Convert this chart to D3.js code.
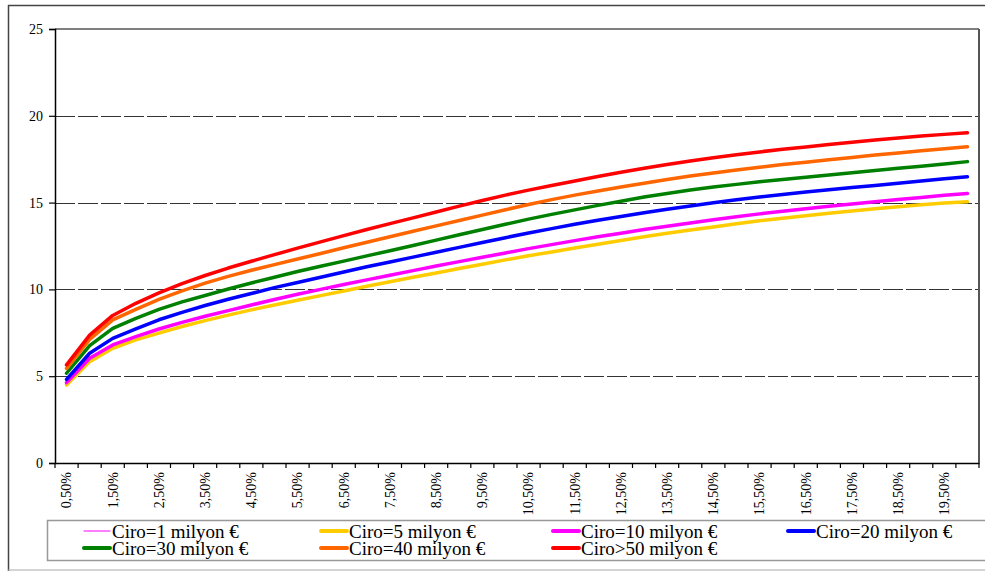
<!DOCTYPE html>
<html><head><meta charset="utf-8">
<script src="https://cdn.jsdelivr.net/npm/d3@7/dist/d3.min.js"></script>
<style>body{margin:0;background:#fff}svg{display:block}
#c text.lbl{font-family:"Liberation Serif","Times New Roman",serif !important;font-size:14px !important;}
#c text.lgt{font-family:"Liberation Serif","Times New Roman",serif !important;font-size:19px !important;}</style>
</head><body>
<svg id="c" width="985" height="571"></svg>
<script>
const categories = ["0,50%","1,00%","1,50%","2,00%","2,50%","3,00%","3,50%","4,00%","4,50%","5,00%","5,50%","6,00%","6,50%","7,00%","7,50%","8,00%","8,50%","9,00%","9,50%","10,00%","10,50%","11,00%","11,50%","12,00%","12,50%","13,00%","13,50%","14,00%","14,50%","15,00%","15,50%","16,00%","16,50%","17,00%","17,50%","18,00%","18,50%","19,00%","19,50%","20,00%"];
const yTicks = [0,5,10,15,20,25];
const ciro50 = [5.65,7.37,8.50,9.20,9.80,10.33,10.80,11.23,11.62,12.00,12.38,12.74,13.10,13.45,13.79,14.12,14.46,14.80,15.12,15.43,15.72,15.98,16.24,16.50,16.75,16.98,17.20,17.40,17.58,17.75,17.92,18.07,18.20,18.35,18.48,18.60,18.72,18.83,18.93,19.03];
const ciro40 = [5.45,7.12,8.24,8.85,9.42,9.92,10.36,10.75,11.10,11.43,11.75,12.07,12.40,12.72,13.03,13.35,13.66,13.97,14.28,14.59,14.89,15.17,15.43,15.67,15.90,16.12,16.33,16.53,16.71,16.88,17.04,17.19,17.33,17.47,17.60,17.74,17.86,17.98,18.10,18.22];
const ciro30 = [5.17,6.76,7.76,8.33,8.85,9.28,9.65,10.02,10.37,10.70,11.03,11.33,11.63,11.93,12.23,12.53,12.84,13.15,13.45,13.75,14.05,14.32,14.58,14.84,15.08,15.32,15.53,15.72,15.90,16.05,16.20,16.33,16.46,16.59,16.72,16.85,16.98,17.10,17.23,17.36];
const ciro20 = [4.82,6.32,7.18,7.72,8.25,8.68,9.07,9.43,9.76,10.10,10.40,10.70,11.00,11.30,11.58,11.86,12.14,12.42,12.70,12.98,13.25,13.50,13.75,13.98,14.20,14.42,14.62,14.81,14.99,15.16,15.32,15.47,15.61,15.74,15.87,15.99,16.12,16.24,16.37,16.49];
const ciro10 = [4.63,6.03,6.80,7.28,7.72,8.10,8.45,8.78,9.10,9.42,9.72,10.00,10.28,10.55,10.82,11.08,11.35,11.60,11.85,12.10,12.35,12.58,12.81,13.03,13.24,13.45,13.64,13.83,14.01,14.18,14.35,14.50,14.65,14.79,14.92,15.05,15.18,15.30,15.42,15.53];
const ciro5 = [4.49,5.84,6.61,7.09,7.48,7.86,8.20,8.52,8.82,9.10,9.37,9.64,9.91,10.18,10.44,10.70,10.95,11.20,11.45,11.70,11.94,12.16,12.38,12.60,12.82,13.03,13.23,13.42,13.60,13.78,13.95,14.10,14.24,14.38,14.51,14.64,14.76,14.88,14.97,15.05];
const ciro1 = ciro10.slice();
const seriesNames = ["Ciro=1 milyon €","Ciro=5 milyon €","Ciro=10 milyon €","Ciro=20 milyon €","Ciro=30 milyon €","Ciro=40 milyon €","Ciro>50 milyon €"];
const seriesColors = ["#FF00FF","#FFCC00","#FF00FF","#0000FF","#008000","#FF6600","#FF0000"];
const seriesWidths = [1,3.5,3.5,3.5,3.5,3.5,3.5];
const seriesValues = [ciro1,ciro5,ciro10,ciro20,ciro30,ciro40,ciro50];

const svg = d3.select("#c");
const L=55,R=979,T=29,B=463;
const x = d3.scaleBand().domain(categories).range([L,R]).padding(0);
const y = d3.scaleLinear().domain([0,25]).range([B,T]);
const SERIF = '"Liberation Serif","Times New Roman",serif';

// outer frame
svg.append("line").attr("x1",8).attr("x2",985).attr("y1",5.5).attr("y2",5.5).attr("stroke","#444").attr("stroke-width",1.5);
svg.append("line").attr("x1",8.5).attr("x2",8.5).attr("y1",5).attr("y2",571).attr("stroke","#444").attr("stroke-width",1.5);
svg.append("line").attr("x1",8).attr("x2",985).attr("y1",570).attr("y2",570).attr("stroke","#aaa").attr("stroke-width",1);

// gridlines
svg.append("g").selectAll("line").data(yTicks.filter(d=>d>0&&d<25)).join("line")
  .attr("x1",L).attr("x2",R).attr("y1",d=>Math.round(y(d))+0.5).attr("y2",d=>Math.round(y(d))+0.5)
  .attr("stroke","#333").attr("stroke-width",1.2).attr("stroke-dasharray","20,3");
// top and right border
svg.append("line").attr("x1",L).attr("x2",R).attr("y1",T).attr("y2",T).attr("stroke","#555").attr("stroke-width",1.5);
svg.append("line").attr("x1",R).attr("x2",R).attr("y1",T).attr("y2",B).attr("stroke","#555").attr("stroke-width",2);

// y axis
const yAxis = d3.axisLeft(y).tickValues(yTicks).tickSize(6).tickFormat(()=>"");
const gy = svg.append("g").attr("transform",`translate(${L},0)`).call(yAxis);
gy.selectAll(".tick text").remove();
gy.select(".domain").attr("stroke","#000").attr("stroke-width",1.5);
gy.selectAll(".tick line").attr("stroke","#000").attr("stroke-width",1.2);
svg.append("g").attr("font-family",SERIF).attr("font-size",14)
  .selectAll("g").data(yTicks).join("g").attr("transform",d=>`translate(${L-12},${y(d)})`)
  .append("text").attr("class","lbl").attr("dy","0.35em").attr("text-anchor","end")
  .attr("font-family",SERIF).attr("font-size",14)
  .style("font-family",SERIF).style("font-size","14px").attr("fill","#000").text(d=>String(d));

// x axis
const xAxis = d3.axisBottom(x).tickSize(0).tickFormat(()=>"");
const gx = svg.append("g").attr("transform",`translate(0,${B})`).call(xAxis);
gx.selectAll(".tick text").remove();
gx.select(".domain").attr("stroke","#000").attr("stroke-width",1.5);
const bounds = categories.map(c=>x(c)).concat([x(categories[categories.length-1])+x.bandwidth()]);
svg.append("g").selectAll("line").data(bounds).join("line")
  .attr("x1",d=>d).attr("x2",d=>d).attr("y1",B).attr("y2",B+5).attr("stroke","#000").attr("stroke-width",1.2);
svg.append("g").attr("font-family",SERIF).attr("font-size",14)
  .selectAll("g").data(categories.filter((d,i)=>i%2===0)).join("g")
  .attr("transform",d=>`translate(${x(d)+x.bandwidth()/2},${B+9}) rotate(-90)`)
  .append("text").attr("class","lbl").attr("text-anchor","end").attr("dy","0.35em")
  .attr("font-family",SERIF).attr("font-size",14)
  .style("font-family",SERIF).style("font-size","14px").attr("fill","#000").text(d=>d);

// lines
const line = d3.line().x((d,i)=>x(categories[i])+x.bandwidth()/2).y(d=>y(d));
svg.append("g").selectAll("path").data(seriesValues).join("path")
  .attr("d",d=>line(d)).attr("fill","none")
  .attr("stroke",(d,i)=>seriesColors[i]).attr("stroke-width",(d,i)=>seriesWidths[i])
  .attr("stroke-linejoin","round").attr("stroke-linecap","round");

// legend
svg.append("rect").attr("x",47.5).attr("y",520.5).attr("width",945).attr("height",40).attr("fill","#fff").attr("stroke","#999").attr("stroke-width",1.5);
const colX = [83,320,552,787];
const rowY = [531,548];
const lg = svg.append("g").selectAll("g").data(seriesNames).join("g")
  .attr("transform",(d,i)=>`translate(${colX[i%4]},${rowY[Math.floor(i/4)]})`);
lg.append("line").attr("x1",1).attr("x2",27).attr("y1",0).attr("y2",0)
  .attr("stroke",(d,i)=>seriesColors[i]).attr("stroke-width",(d,i)=>i===0?1:4).attr("stroke-linecap","round");
lg.append("text").attr("class","lgt").attr("x",29).attr("y",0).attr("dy","0.35em")
  .style("font-family",SERIF).style("font-size","19px").attr("fill","#000").text(d=>d);
</script>
</body></html>
